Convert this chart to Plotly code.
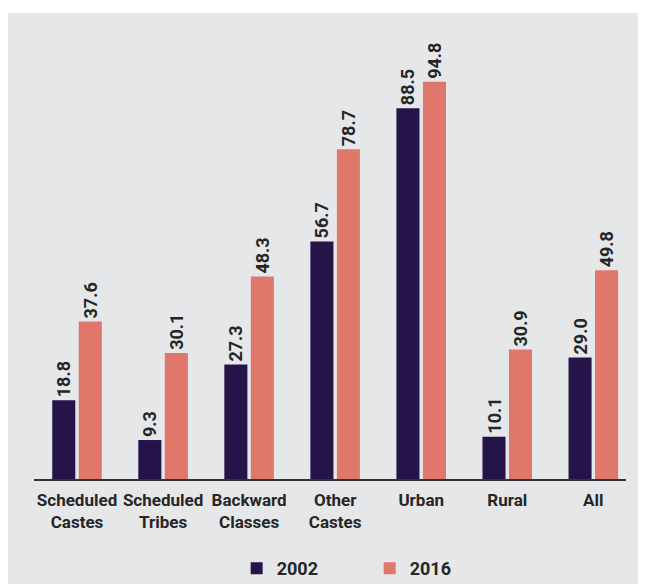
import plotly.graph_objects as go

categories = ["Scheduled<br>Castes", "Scheduled<br>Tribes", "Backward<br>Classes",
              "Other<br>Castes", "Urban", "Rural", "All"]
values_2002 = [18.8, 9.3, 27.3, 56.7, 88.5, 10.1, 29.0]
values_2016 = [37.6, 30.1, 48.3, 78.7, 94.8, 30.9, 49.8]
series_names = ["2002", "2016"]

COL_2002 = "#24144a"
COL_2016 = "#df786b"
BG = "#e6e7e9"
TXT = "#262626"
FONT = "Roboto, Liberation Sans, sans-serif"

fig = go.Figure()
for name, vals, col in [(series_names[0], values_2002, COL_2002),
                        (series_names[1], values_2016, COL_2016)]:
    fig.add_trace(go.Bar(
        x=categories, y=vals, name=name, marker=dict(color=col, line=dict(width=0)),
        text=[f"{v:.1f}" for v in vals], textposition="outside", textangle=-90,
        textfont=dict(family=FONT, size=18, color=TXT, weight="bold"),
        constraintext="none", cliponaxis=False,
    ))

W, H = 646, 584
L, R, T, B = 26, 28, 52, 113
pw = W - L - R
ph = H - T - B

fig.add_shape(type="rect", xref="paper", yref="paper",
              x0=(0 - L) / pw, x1=(W - L) / pw + 0.02,
              y0=-(B + 10) / ph, y1=(H - B - 5) / ph,
              fillcolor=BG, line=dict(width=0), layer="below")

fig.update_layout(
    width=W, height=H,
    margin=dict(l=L, r=R, t=T, b=B, autoexpand=False),
    paper_bgcolor="white", plot_bgcolor="rgba(0,0,0,0)",
    barmode="group", bargap=0.384, bargroupgap=0.13,
    font=dict(family=FONT, color=TXT),
    showlegend=True,
    legend=dict(orientation="h", x=0.567, xanchor="center", y=-0.214, yanchor="middle",
                font=dict(family=FONT, size=18, color=TXT, weight="bold"),
                entrywidth=88, bgcolor="rgba(0,0,0,0)"),
    xaxis=dict(range=[-0.5, 6.38], showline=True, linecolor="#333333", linewidth=1.8,
               ticks="", showgrid=False, ticklabelstandoff=5, tickangle=0, automargin=False,
               tickfont=dict(family=FONT, size=17, color=TXT, weight="bold")),
    yaxis=dict(range=[0, 100], visible=False, showgrid=False, zeroline=False, automargin=False),
)

fig.write_html("out.html")
